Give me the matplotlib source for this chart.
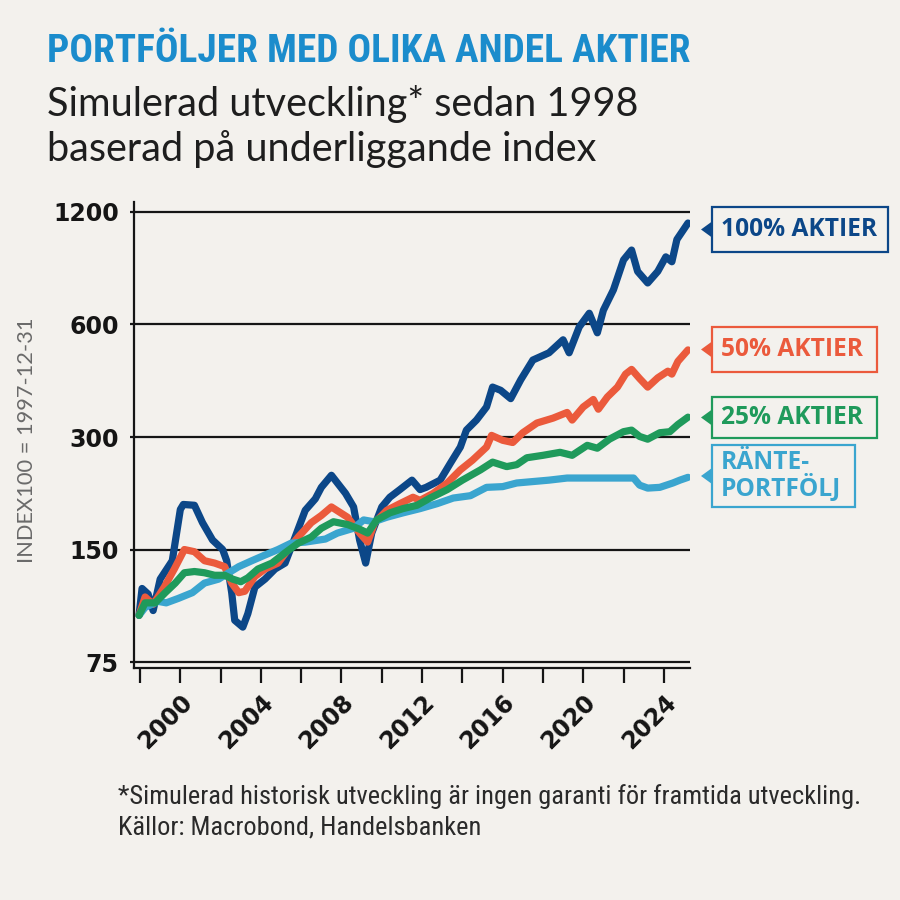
import matplotlib
matplotlib.use("Agg")
import matplotlib.pyplot as plt
from matplotlib import font_manager
from matplotlib.patches import Rectangle, Polygon
from matplotlib.ticker import NullLocator

# ---------------- data ----------------
years_100 = [1997.95, 1998.1, 1998.4, 1998.65, 1999.0, 1999.6, 2000.0, 2000.15, 2000.7,
             2001.1, 2001.6, 2002.1, 2002.3, 2002.55, 2002.7, 2003.1, 2003.35, 2003.7,
             2004.2, 2004.7, 2005.2, 2005.7, 2006.2, 2006.7, 2007.0, 2007.5, 2008.2,
             2008.6, 2008.9, 2009.2, 2009.5, 2010.0, 2010.4, 2010.9, 2011.5, 2011.9,
             2012.2, 2012.9, 2013.4, 2013.9, 2014.2, 2014.7, 2015.2, 2015.5, 2015.9,
             2016.4, 2016.9, 2017.5, 2018.3, 2019.0, 2019.3, 2019.8, 2020.3, 2020.7,
             2021.0, 2021.5, 2022.0, 2022.4, 2022.7, 2023.2, 2023.7, 2024.1, 2024.4,
             2024.65, 2025.2]
vals_100 = [100, 118, 114, 103, 125, 140, 192, 198, 197,
            177, 159, 150, 140, 115, 97, 93, 101, 119,
            125, 133, 138, 162, 191, 205, 220, 237, 212,
            195, 159, 138, 166, 195, 207, 217, 230, 217,
            220, 230, 255, 282, 313, 333, 361, 408, 400,
            380, 427, 482, 504, 546, 504, 591, 643, 570,
            655, 743, 893, 949, 832, 775, 832, 910, 883,
            1013, 1121]

years_50 = [1997.95, 1998.25, 1998.65, 1999.2, 1999.7, 2000.2, 2000.7, 2001.2, 2001.7,
            2002.2, 2002.55, 2002.9, 2003.2, 2003.7, 2004.2, 2004.85, 2005.35, 2005.85,
            2006.5, 2007.0, 2007.5, 2008.3, 2008.9, 2009.3, 2009.65, 2010.25, 2010.9,
            2011.55, 2011.9, 2012.55, 2013.25, 2013.9, 2014.5, 2015.2, 2015.45, 2016.0,
            2016.5, 2017.0, 2017.7, 2018.5, 2019.2, 2019.45, 2020.0, 2020.5, 2020.75,
            2021.2, 2021.7, 2022.1, 2022.4, 2022.8, 2023.2, 2023.7, 2024.2, 2024.4,
            2024.7, 2025.2]
vals_50 = [100, 112, 107, 119, 133, 150, 148, 140, 138,
           135, 122, 115, 116, 127, 133, 138, 150, 162,
           177, 185, 195, 183, 166, 157, 177, 191, 199,
           207, 203, 212, 226, 245, 260, 282, 303, 294,
           290, 308, 327, 337, 349, 333, 361, 378, 356,
           384, 408, 442, 455, 430, 408, 432, 450, 442,
           478, 513]

years_25 = [1997.95, 1998.25, 1998.75, 1999.25, 1999.75, 2000.2, 2000.7, 2001.2, 2001.7,
            2002.2, 2002.6, 2003.0, 2003.35, 2003.85, 2004.55, 2005.2, 2005.85, 2006.5,
            2007.0, 2007.6, 2008.3, 2008.9, 2009.3, 2009.75, 2010.4, 2011.05, 2011.75,
            2012.4, 2013.25, 2014.0, 2014.9, 2015.5, 2016.2, 2016.7, 2017.2, 2018.0,
            2018.85, 2019.45, 2020.2, 2020.7, 2021.3, 2022.0, 2022.4, 2022.8, 2023.2,
            2023.8, 2024.3, 2024.7, 2025.2]
vals_25 = [100, 108, 108, 115, 122, 130, 131, 130, 128,
           128, 125, 123, 126, 133, 138, 147, 156, 162,
           171, 178, 175, 170, 166, 180, 188, 193, 197,
           206, 217, 230, 245, 257, 250, 253, 264, 268,
           273, 268, 285, 280, 296, 310, 313, 301, 296,
           308, 310, 324, 339]

years_rante = [1997.95, 1998.25, 1998.9, 1999.3, 1999.9, 2000.6, 2001.2, 2001.9, 2002.4,
               2002.9, 2003.55, 2004.2, 2004.85, 2005.5, 2006.2, 2007.2, 2007.8, 2008.6,
               2009.1, 2009.6, 2010.25, 2011.05, 2011.9, 2012.75, 2013.55, 2014.4, 2015.2,
               2016.0, 2016.7, 2017.5, 2018.3, 2019.2, 2020.0, 2020.8, 2021.7, 2022.5,
               2022.8, 2023.2, 2023.8, 2024.45, 2024.8, 2025.2]
vals_rante = [100, 105, 109, 108, 111, 115, 122, 125, 130,
              135, 140, 145, 150, 156, 157, 160, 166, 171,
              180, 178, 183, 188, 193, 199, 206, 209, 220,
              221, 226, 228, 230, 233, 233, 233, 233, 233,
              223, 219, 220, 226, 230, 234]

series_labels = ["100% AKTIER", "50% AKTIER", "25% AKTIER", "RÄNTE-\nPORTFÖLJ"]
y_ticks = [75, 150, 300, 600, 1200]
x_major = [2000, 2004, 2008, 2012, 2016, 2020, 2024]
x_minor = [1998, 2002, 2006, 2010, 2014, 2018, 2022]

title = "PORTFÖLJER MED OLIKA ANDEL AKTIER"
subtitle1 = "Simulerad utveckling* sedan 1998"
subtitle2 = "baserad på underliggande index"
ylabel = "INDEX100 = 1997-12-31"
foot1 = "*Simulerad historisk utveckling är ingen garanti för framtida utveckling."
foot2 = "Källor: Macrobond, Handelsbanken"

# ---------------- style ----------------
BG = "#f3f1ed"
C100 = "#0c4788"
C50 = "#eb5a3c"
C25 = "#1f9a5b"
CR = "#3aa5cf"
TITLE_C = "#1b8ccc"
INK = "#151515"

names = {f.name for f in font_manager.fontManager.ttflist}
def pick(*cands):
    for c in cands:
        if c in names:
            return c
    return "DejaVu Sans"

narrow = pick("Liberation Sans Narrow", "Roboto Condensed", "Open Sans Condensed")
light = pick("Lato", "Open Sans", "Roboto")
body = pick("Open Sans", "Lato", "Noto Sans")

W = H = 900
fig = plt.figure(figsize=(9, 9), dpi=100, facecolor=BG)

def fx(px):
    return px / W

def fy(py):
    return 1 - py / H

ax = fig.add_axes([fx(134), fy(668), (690 - 134) / W, (668 - 202) / H])
ax.set_facecolor(BG)
ax.set_yscale("log")
ax.set_ylim(72.3, 1276)
ax.set_xlim(1997.70, 2025.30)

for v in y_ticks:
    ax.axhline(v, color=INK, lw=1.6, zorder=1)

lw = 5.2
kw = dict(lw=lw, solid_joinstyle="round", solid_capstyle="round")
ax.plot(years_100, vals_100, color=C100, zorder=3, **kw)
ax.plot(years_50, vals_50, color=C50, zorder=4, **kw)
ax.plot(years_rante, vals_rante, color=CR, zorder=5, **kw)
ax.plot(years_25, vals_25, color=C25, zorder=6, **kw)

for s in ["top", "right"]:
    ax.spines[s].set_visible(False)
for s in ["left", "bottom"]:
    ax.spines[s].set_linewidth(1.6)
    ax.spines[s].set_color(INK)

ax.set_yticks(y_ticks)
ax.set_yticklabels([str(v) for v in y_ticks])
ax.yaxis.set_minor_locator(NullLocator())
ax.tick_params(axis="y", which="major", length=3, width=1.6, pad=8, colors=INK,
               labelsize=17)
for t in ax.get_yticklabels():
    t.set_fontweight("bold")
    t.set_family("DejaVu Sans")

ax.set_xticks(x_major)
ax.set_xticks(x_minor, minor=True)
ax.set_xticklabels([str(v) for v in x_major])
ax.tick_params(axis="x", which="both", length=11, width=1.6, colors=INK, pad=5)
for t in ax.get_xticklabels():
    t.set_rotation(45)
    t.set_ha("right")
    t.set_va("top")
    t.set_rotation_mode("anchor")
    t.set_fontweight("bold")
    t.set_fontsize(17)
    t.set_family("DejaVu Sans")

# ---------------- texts ----------------
t_title = fig.text(fx(47), fy(62), title, family=narrow, fontweight="bold", fontsize=30,
                   color=TITLE_C, ha="left", va="baseline")
t_sub1 = fig.text(fx(47), fy(116), subtitle1, family=light, fontweight="normal", fontsize=25,
                  color="#1e1e1e", ha="left", va="baseline")
t_sub2 = fig.text(fx(47), fy(161), subtitle2, family=light, fontweight="normal", fontsize=25,
                  color="#1e1e1e", ha="left", va="baseline")
t_ylab = fig.text(fx(27), fy(440), ylabel, family=light, fontweight="normal", fontsize=13,
                  color="#6a6a6a", rotation=90, ha="center", va="center")
t_f1 = fig.text(fx(118), fy(804), foot1, family=narrow, fontsize=15, color="#2a2a2a",
                ha="left", va="baseline")
t_f2 = fig.text(fx(118), fy(835), foot2, family=narrow, fontsize=15, color="#2a2a2a",
                ha="left", va="baseline")

# label boxes: (left, top, right, bottom) in px
boxes = [(712, 207, 888, 252), (712, 327, 877, 372), (712, 397, 877, 438), (712, 445, 855, 507)]
colors = [C100, C50, C25, CR]
label_texts = []
for (l, tp, r, b), c, lab in zip(boxes, colors, series_labels):
    fig.patches.append(Rectangle((fx(l), fy(b)), (r - l) / W, (b - tp) / H, transform=fig.transFigure,
                                 fill=False, ec=c, lw=1.6))
    cy = (tp + b) / 2
    fig.patches.append(Polygon([(fx(701), fy(cy)), (fx(712), fy(cy - 8)), (fx(712), fy(cy + 8))],
                               closed=True, transform=fig.transFigure, fc=c, ec="none"))
    tt = fig.text(fx(721), fy(cy), lab, family=body, fontweight="bold", fontsize=15, color=c,
                  ha="left", va="center", linespacing=0.95)
    label_texts.append(tt)

# fit text sizes to reference extents
fig.canvas.draw()
rend = fig.canvas.get_renderer()

def fit(t, target, vertical=False):
    bb = t.get_window_extent(rend)
    size = bb.height if vertical else bb.width
    t.set_fontsize(t.get_fontsize() * target / size)

fit(t_title, 643)
fit(t_sub1, 593)
t_sub2.set_fontsize(t_sub1.get_fontsize())
fit(t_f1, 744)
t_f2.set_fontsize(t_f1.get_fontsize())
fit(t_ylab, 245, vertical=True)
fit(label_texts[0], 156)
for tt in label_texts[1:]:
    tt.set_fontsize(label_texts[0].get_fontsize())

fig.savefig("out.png", dpi=100, facecolor=BG)
